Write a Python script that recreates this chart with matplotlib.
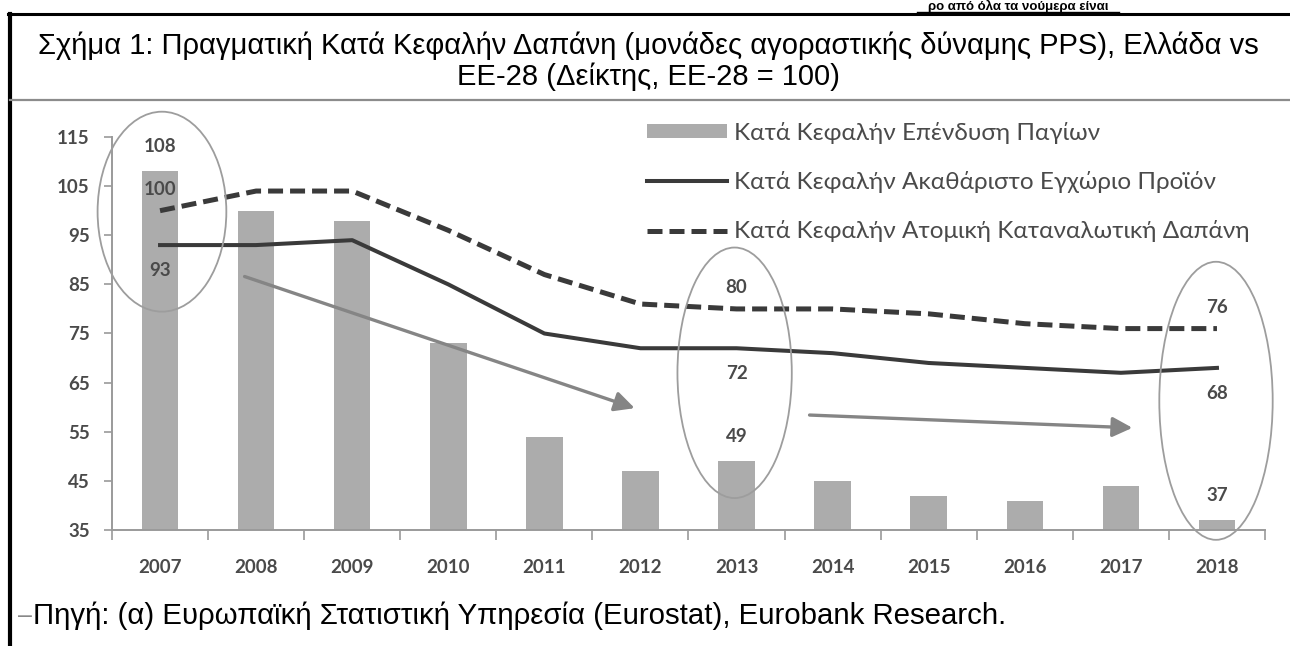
import matplotlib
matplotlib.use("Agg")
import matplotlib.pyplot as plt
from matplotlib.lines import Line2D
from matplotlib.patches import Ellipse
import numpy as np

# Data
years = ["2007", "2008", "2009", "2010", "2011", "2012",
         "2013", "2014", "2015", "2016", "2017", "2018"]
investment = [108, 100, 98, 73, 54, 47, 49, 45, 42, 41, 44, 37]
gdp = [93, 93, 94, 85, 75, 72, 72, 71, 69, 68, 67, 68]
consumption = [100, 104, 104, 96, 87, 81, 80, 80, 79, 77, 76, 76]

labels = ["Κατά Κεφαλήν Επένδυση Παγίων",
          "Κατά Κεφαλήν Ακαθάριστο Εγχώριο Προϊόν",
          "Κατά Κεφαλήν Ατομική Καταναλωτική Δαπάνη"]
title = ("Σχήμα 1: Πραγματική Κατά Κεφαλήν Δαπάνη (μονάδες αγοραστικής δύναμης PPS), Ελλάδα vs\n"
         "ΕΕ-28 (Δείκτης, ΕΕ-28 = 100)")
source = "Πηγή: (α) Ευρωπαϊκή Στατιστική Υπηρεσία (Eurostat), Eurobank Research."

doc_font = ["Liberation Sans", "DejaVu Sans"]
chart_font = ["Lato", "DejaVu Sans"]
bar_color = "#acacac"
line_color = "#3a3a3a"
text_color = "#4a4a4a"

W, H = 1290, 646
fig = plt.figure(figsize=(W / 100, H / 100), dpi=100)
fig.patch.set_facecolor("white")

# document frame (scanned page look)
fig.add_artist(Line2D([8 / W, 1], [1 - 14 / H, 1 - 14 / H], color="black", lw=2.2))
fig.add_artist(Line2D([10 / W, 10 / W], [0, 1 - 14 / H], color="black", lw=3))
fig.add_artist(Line2D([10 / W, 1], [1 - 100 / H, 1 - 100 / H], color="#8c8c8c", lw=1.6))

# heading line of the page above the figure
fig.text(1018 / W, 1 - 0.2 / H, "ρο από όλα τα νούμερα είναι", family=doc_font,
         fontsize=9.5, fontweight="bold", ha="center", va="top")
fig.add_artist(Line2D([917 / W, 1119 / W], [1 - 11.5 / H, 1 - 11.5 / H], color="black", lw=1.0))

fig.text(648 / W, 1 - 61 / H, title, family=doc_font, fontsize=21,
         ha="center", va="center", linespacing=1.1)

fig.text(18 / W, 1 - 616 / H, "‒", family=doc_font, fontsize=18, color="#888888",
         ha="left", va="center")
fig.text(33 / W, 1 - 616 / H, source, family=doc_font, fontsize=21.2,
         ha="left", va="center")

# chart axes
ax = fig.add_axes([112 / W, 1 - 530 / H, (1265 - 112) / W, (530 - 137) / H])
x = np.arange(len(years))

bars = ax.bar(x, investment, width=0.38, color=bar_color, label=labels[0], zorder=2)
l_gdp, = ax.plot(x, gdp, color=line_color, lw=2.9, label=labels[1], zorder=3)
l_cons, = ax.plot(x, consumption, color=line_color, lw=3.6, dashes=(3, 1.4),
                  label=labels[2], zorder=3)

ax.set_xlim(-0.5, len(years) - 0.5)
ax.set_ylim(35, 115)
ax.set_yticks(np.arange(35, 116, 10))
ax.set_xticks(x)
ax.set_xticklabels(years)
ax.set_xticks(np.arange(-0.5, len(years), 1), minor=True)
ax.tick_params(axis="x", which="major", length=0, pad=21)
ax.tick_params(axis="x", which="minor", length=7, color="#9a9a9a", width=1.2)
ax.tick_params(axis="y", length=6, color="#9a9a9a", width=1.2, pad=10)
for lab in ax.get_xticklabels() + ax.get_yticklabels():
    lab.set_family(chart_font)
    lab.set_fontsize(13.5)
    lab.set_color(text_color)
    lab.set_fontweight("bold")

for side in ["top", "right"]:
    ax.spines[side].set_visible(False)
for side in ["left", "bottom"]:
    ax.spines[side].set_color("#9a9a9a")
    ax.spines[side].set_linewidth(1.4)

# highlighted years
for xc, yc, w, h in [(0.02, 99.8, 1.34, 40.7), (5.98, 67.0, 1.19, 51.0), (10.99, 61.3, 1.18, 56.6)]:
    ax.add_patch(Ellipse((xc, yc), w, h, fill=False, edgecolor="#9d9d9d",
                         lw=1.3, clip_on=False, zorder=4))

lab_kw = dict(family=chart_font, fontsize=13.5, fontweight="bold", color=text_color,
              ha="center", va="center", zorder=5)
for i in [0, 6, 11]:
    ax.text(i, consumption[i] + 4.3, str(consumption[i]), **lab_kw)
    ax.text(i, gdp[i] - 5.2, str(gdp[i]), **lab_kw)
    ax.text(i, investment[i] + 5.0, str(investment[i]), **lab_kw)

# trend arrows
arrow_kw = dict(arrowstyle="-|>,head_length=1.2,head_width=0.6", color="#858585",
                lw=2.4, shrinkA=0, shrinkB=0)
ax.annotate("", xy=(4.94, 59.8), xytext=(0.88, 86.6), arrowprops=arrow_kw, zorder=4)
ax.annotate("", xy=(10.12, 55.8), xytext=(6.76, 58.4), arrowprops=arrow_kw, zorder=4)

leg = ax.legend([bars, l_gdp, l_cons], labels, loc="upper left",
                bbox_to_anchor=(625 / W, 1 - 100 / H),
                bbox_transform=fig.transFigure, frameon=False,
                prop={"family": chart_font, "size": 17.5}, handlelength=3.3,
                handleheight=0.5, handletextpad=0.3, labelspacing=1.12)
for t in leg.get_texts():
    t.set_color(text_color)

fig.savefig("out.png", dpi=100, facecolor="white")
